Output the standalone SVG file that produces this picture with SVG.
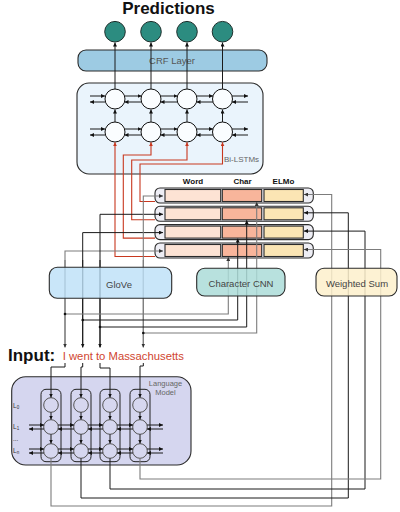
<svg xmlns="http://www.w3.org/2000/svg" width="400" height="512" viewBox="0 0 400 512">
<style>
.t{font-family:"Liberation Sans",Arial,sans-serif}
.box{stroke:#2a2a2a;stroke-width:1.1}
.cn{fill:none;stroke:#1a1a1a;stroke-width:1}
.cg{fill:none;stroke:#7c7c7c;stroke-width:1.1}
.cr{fill:none;stroke:#c8381f;stroke-width:1.1}
.ar{marker-end:url(#ah)}
.lstm{fill:#fafdff;stroke:#111;stroke-width:1}
.lm{fill:#d6d7ef;stroke:#555;stroke-width:1}
</style>
<defs>
<marker id="ah" viewBox="0 0 4 4" refX="4" refY="2" markerWidth="4" markerHeight="4" markerUnits="userSpaceOnUse" orient="auto"><path d="M0,0L4,2L0,4z" fill="#111"/></marker>
<marker id="ahg" viewBox="0 0 4 4" refX="4" refY="2" markerWidth="4" markerHeight="4" markerUnits="userSpaceOnUse" orient="auto"><path d="M0,0L4,2L0,4z" fill="#333"/></marker>
<marker id="ahr" viewBox="0 0 4 4" refX="4" refY="2" markerWidth="4" markerHeight="4" markerUnits="userSpaceOnUse" orient="auto"><path d="M0,0L4,2L0,4z" fill="#c8381f"/></marker>
</defs>
<rect width="400" height="512" fill="#fff"/>

<text class="t" x="168.5" y="13.5" font-size="17" font-weight="bold" text-anchor="middle" fill="#111">Predictions</text>

<g id="predictions">
<circle cx="115" cy="31.7" r="10.3" fill="#2c8c80" stroke="#1d2f2c" stroke-width="1"/>
<circle cx="151" cy="31.7" r="10.3" fill="#2c8c80" stroke="#1d2f2c" stroke-width="1"/>
<circle cx="187" cy="31.7" r="10.3" fill="#2c8c80" stroke="#1d2f2c" stroke-width="1"/>
<circle cx="222.5" cy="31.7" r="10.3" fill="#2c8c80" stroke="#1d2f2c" stroke-width="1"/>
</g>

<g id="crf">
<rect class="box" x="78" y="50" width="189" height="21" rx="8" fill="#9dcbe3"/>
<text class="t" x="172" y="64" font-size="9.5" text-anchor="middle" fill="#555">CRF Layer</text>
</g>

<g id="bilstm">
<rect class="box" x="77" y="83" width="186" height="91" rx="12" fill="#eaf4fc"/>
<text class="t" x="241.5" y="162" font-size="8" text-anchor="middle" fill="#666">Bi-LSTMs</text>
<circle class="lstm" cx="115" cy="99" r="10"/>
<circle class="lstm" cx="151" cy="99" r="10"/>
<circle class="lstm" cx="187" cy="99" r="10"/>
<circle class="lstm" cx="222.5" cy="99" r="10"/>
<circle class="lstm" cx="115" cy="132" r="10"/>
<circle class="lstm" cx="151" cy="132" r="10"/>
<circle class="lstm" cx="187" cy="132" r="10"/>
<circle class="lstm" cx="222.5" cy="132" r="10"/>
</g>

<g id="embeddings">
<text class="t" x="193" y="184" font-size="8" font-weight="bold" text-anchor="middle" fill="#111">Word</text>
<text class="t" x="242.5" y="184" font-size="8" font-weight="bold" text-anchor="middle" fill="#111">Char</text>
<text class="t" x="283.5" y="184" font-size="8" font-weight="bold" text-anchor="middle" fill="#111">ELMo</text>
<g id="row1">
<rect class="box" x="155" y="188" width="158.3" height="15" rx="5" fill="#eeeef5"/>
<rect class="box" x="165" y="189.5" width="55.7" height="12" fill="#fde3d4"/>
<rect class="box" x="222.3" y="189.5" width="39.4" height="12" fill="#f8b59b"/>
<rect class="box" x="264" y="189.5" width="39.3" height="12" fill="#fbe5b4"/>
</g>
<g id="row2">
<rect class="box" x="155" y="206.3" width="158.3" height="15" rx="5" fill="#eeeef5"/>
<rect class="box" x="165" y="207.8" width="55.7" height="12" fill="#fde3d4"/>
<rect class="box" x="222.3" y="207.8" width="39.4" height="12" fill="#f8b59b"/>
<rect class="box" x="264" y="207.8" width="39.3" height="12" fill="#fbe5b4"/>
</g>
<g id="row3">
<rect class="box" x="155" y="224.6" width="158.3" height="15" rx="5" fill="#eeeef5"/>
<rect class="box" x="165" y="226.1" width="55.7" height="12" fill="#fde3d4"/>
<rect class="box" x="222.3" y="226.1" width="39.4" height="12" fill="#f8b59b"/>
<rect class="box" x="264" y="226.1" width="39.3" height="12" fill="#fbe5b4"/>
</g>
<g id="row4">
<rect class="box" x="155" y="243" width="158.3" height="15" rx="5" fill="#eeeef5"/>
<rect class="box" x="165" y="244.5" width="55.7" height="12" fill="#fde3d4"/>
<rect class="box" x="222.3" y="244.5" width="39.4" height="12" fill="#f8b59b"/>
<rect class="box" x="264" y="244.5" width="39.3" height="12" fill="#fbe5b4"/>
</g>
</g>

<g id="language-model">
<rect class="box" x="11.7" y="376.7" width="179.3" height="88.3" rx="14" fill="#d5d6ef"/>
<text class="t" x="165.5" y="385.7" font-size="7.5" text-anchor="middle" fill="#666">Language</text>
<text class="t" x="165.5" y="395" font-size="7.5" text-anchor="middle" fill="#666">Model</text>
<text class="t" x="13" y="407.5" font-size="6.5" fill="#333">L<tspan font-size="4.5" dy="1">0</tspan></text>
<text class="t" x="13" y="429" font-size="6.5" fill="#333">L<tspan font-size="4.5" dy="1">1</tspan></text>
<text class="t" x="13" y="441" font-size="6.5" fill="#333">...</text>
<text class="t" x="13" y="453" font-size="6.5" fill="#333">L<tspan font-size="4.5" dy="1">n</tspan></text>
<rect x="41" y="389.3" width="20" height="72.4" rx="5" fill="none" stroke="#222" stroke-width="1"/>
<rect x="71" y="389.3" width="20" height="72.4" rx="5" fill="none" stroke="#222" stroke-width="1"/>
<rect x="100" y="389.3" width="20" height="72.4" rx="5" fill="none" stroke="#222" stroke-width="1"/>
<rect x="130" y="389.3" width="20" height="72.4" rx="5" fill="none" stroke="#222" stroke-width="1"/>
<circle class="lm" cx="51" cy="405" r="7.3"/><circle class="lm" cx="51" cy="427" r="7.3"/><circle class="lm" cx="51" cy="451" r="7.3"/>
<circle class="lm" cx="81" cy="405" r="7.3"/><circle class="lm" cx="81" cy="427" r="7.3"/><circle class="lm" cx="81" cy="451" r="7.3"/>
<circle class="lm" cx="110" cy="405" r="7.3"/><circle class="lm" cx="110" cy="427" r="7.3"/><circle class="lm" cx="110" cy="451" r="7.3"/>
<circle class="lm" cx="140" cy="405" r="7.3"/><circle class="lm" cx="140" cy="427" r="7.3"/><circle class="lm" cx="140" cy="451" r="7.3"/>
</g>

<g id="input">
<text class="t" x="8" y="361" font-size="17" font-weight="bold" fill="#111">Input:</text>
<text class="t" x="62.7" y="359.5" font-size="11.3" fill="#d0452f">I went to Massachusetts</text>
</g>

<g id="connectors">
<!-- LSTM to predictions -->
<path class="cn ar" d="M115,89V42.5"/><path class="cn ar" d="M151,89V42.5"/><path class="cn ar" d="M187,89V42.5"/><path class="cn ar" d="M222.5,89V42.5"/>
<!-- LSTM vertical -->
<path class="cn ar" d="M115,122V109.5"/><path class="cn ar" d="M151,122V109.5"/><path class="cn ar" d="M187,122V109.5"/><path class="cn ar" d="M222.5,122V109.5"/>
<!-- LSTM horizontal top row -->
<path class="cn ar" d="M90,96H105"/><path class="cn ar" d="M124.5,96H141.5"/><path class="cn ar" d="M160.5,96H177.5"/><path class="cn ar" d="M196.5,96H213"/><path class="cn ar" d="M232,96H248"/>
<path class="cn ar" d="M105,102H90"/><path class="cn ar" d="M141.5,102H124.5"/><path class="cn ar" d="M177.5,102H160.5"/><path class="cn ar" d="M213,102H196.5"/><path class="cn ar" d="M248,102H232"/>
<!-- LSTM horizontal bottom row -->
<path class="cn ar" d="M90,129H105"/><path class="cn ar" d="M124.5,129H141.5"/><path class="cn ar" d="M160.5,129H177.5"/><path class="cn ar" d="M196.5,129H213"/><path class="cn ar" d="M232,129H248"/>
<path class="cn ar" d="M105,135H90"/><path class="cn ar" d="M141.5,135H124.5"/><path class="cn ar" d="M177.5,135H160.5"/><path class="cn ar" d="M213,135H196.5"/><path class="cn ar" d="M248,135H232"/>
<!-- red outputs from rows -->
<path class="cr" marker-end="url(#ahr)" d="M155,256.5H115V142.3"/>
<path class="cr" marker-end="url(#ahr)" d="M155,238.1H123.3V155H151V142.3"/>
<path class="cr" marker-end="url(#ahr)" d="M155,219.8H131.7V160H187V142.3"/>
<path class="cr" marker-end="url(#ahr)" d="M155,201.5H140V164H222.5V142.3"/>
<!-- GloVe / word paths -->
<path class="cg" marker-end="url(#ahg)" d="M65,347V251H163"/>
<path class="cn ar" d="M82.7,347V232.6H163"/>
<path class="cn ar" d="M100,347V214.3H163"/>
<path class="cg" marker-end="url(#ahg)" d="M143.3,347V196H163"/>
<path class="cg" marker-end="url(#ahg)" d="M143.3,260V347.5"/>
<path class="cn ar" d="M100,260V347.5"/>
<path class="cn ar" d="M82.7,260V347.5"/>
<path class="cg" marker-end="url(#ahg)" d="M65,260V347.5"/>
<!-- Char CNN paths -->
<path class="cg" marker-end="url(#ahg)" d="M65,314H228.3V257"/>
<path class="cn ar" d="M82.7,320H237.7V238.6"/>
<path class="cn ar" d="M100,327H246.7V220.3"/>
<path class="cg" marker-end="url(#ahg)" d="M143.3,333H256.7V202"/>
<circle cx="65" cy="314" r="1.3" fill="#111"/>
<circle cx="82.7" cy="320" r="1.3" fill="#111"/>
<circle cx="100" cy="327" r="1.3" fill="#111"/>
<circle cx="143.3" cy="333" r="1.3" fill="#111"/>
<!-- words into LM -->
<path class="cn ar" d="M65,363V367H51V397.5"/>
<path class="cn ar" d="M82.7,363V367H81V397.5"/>
<path class="cn ar" d="M100,363V368H110V397.5"/>
<path class="cn ar" d="M143.3,363V366H140V397.5"/>
<!-- LM internal vertical -->
<path class="cn ar" d="M51,412.3V419.5"/><path class="cn ar" d="M81,412.3V419.5"/><path class="cn ar" d="M110,412.3V419.5"/><path class="cn ar" d="M140,412.3V419.5"/>
<path class="cn ar" d="M51,434.3V443.5"/><path class="cn ar" d="M81,434.3V443.5"/><path class="cn ar" d="M110,434.3V443.5"/><path class="cn ar" d="M140,434.3V443.5"/>
<!-- LM internal horizontal -->
<path class="cn ar" d="M29,425H44"/><path class="cn ar" d="M58,425H74"/><path class="cn ar" d="M88,425H103"/><path class="cn ar" d="M117,425H133"/><path class="cn ar" d="M147,425H163"/>
<path class="cn ar" d="M44,429H29"/><path class="cn ar" d="M74,429H58"/><path class="cn ar" d="M103,429H88"/><path class="cn ar" d="M133,429H117"/><path class="cn ar" d="M163,429H147"/>
<path class="cn ar" d="M29,449H44"/><path class="cn ar" d="M58,449H74"/><path class="cn ar" d="M88,449H103"/><path class="cn ar" d="M117,449H133"/><path class="cn ar" d="M147,449H163"/>
<path class="cn ar" d="M44,453H29"/><path class="cn ar" d="M74,453H58"/><path class="cn ar" d="M103,453H88"/><path class="cn ar" d="M133,453H117"/><path class="cn ar" d="M163,453H147"/>
<!-- ELMo paths -->
<path class="cg" marker-end="url(#ahg)" d="M51,458.3V506H331.7V194.5H304"/>
<path class="cn ar" d="M81,458.3V498H348.3V212.8H304"/>
<path class="cn ar" d="M110,458.3V489H365V231.1H304"/>
<path class="cg" marker-end="url(#ahg)" d="M140,458.3V479H380.7V249.5H304"/>
</g>

<g id="glove">
<rect class="box" x="49.3" y="267.3" width="122.4" height="31" rx="8" fill="#bde0f8" fill-opacity="0.82"/>
<text class="t" x="119" y="288.3" font-size="9.5" text-anchor="middle" fill="#444">GloVe</text>
</g>
<g id="char-cnn">
<rect class="box" x="196.7" y="268.3" width="88.3" height="27.7" rx="8" fill="#acdcd8" fill-opacity="0.85"/>
<text class="t" x="241" y="287.3" font-size="9.5" text-anchor="middle" fill="#444">Character CNN</text>
</g>
<g id="weighted-sum">
<rect class="box" x="316" y="268.3" width="81" height="27.7" rx="8" fill="#fdf0cb" fill-opacity="0.85"/>
<text class="t" x="357" y="287.3" font-size="9.5" text-anchor="middle" fill="#444">Weighted Sum</text>
</g>
</svg>
